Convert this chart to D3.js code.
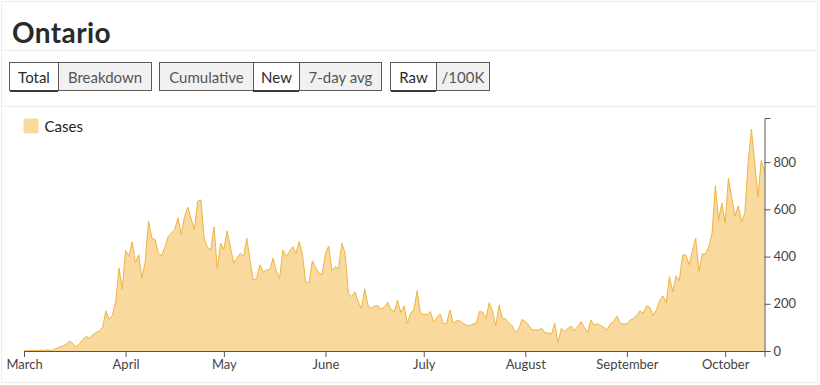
<!DOCTYPE html>
<html>
<head>
<meta charset="utf-8">
<script src="https://cdn.jsdelivr.net/npm/d3@7"></script>
<style>
  body { margin: 0; background: #fff; font-family: Lato, "Open Sans", sans-serif; }
  #card { position: absolute; left: 1px; top: 1px; width: 817px; height: 382px; border: 1px solid #ececec; box-sizing: border-box; }
  #title { position: absolute; left: 10px; top: 13px; font-size: 28px; font-weight: 700; color: #2a2a2a; letter-spacing: 0.4px; }
  .sep { position: absolute; left: 0; width: 100%; height: 1px; background: #ececec; }
  .group { position: absolute; top: 60px; display: flex; border: 1px solid #5a5a5a; height: 29px; box-sizing: border-box; }
  .btn { height: 100%; box-sizing: border-box; display: flex; align-items: center; justify-content: center; font-size: 15px; color: #555; background: #f1f1f1; border-left: 1px solid #5a5a5a; flex: none; }
  .btn:first-child { border-left: none; }
  .btn.on { background: #fff; color: #2a2a2a; box-shadow: 0 2px 0 #3a3a3a; }
  #chart { position: absolute; left: 0; top: 0; }
  .axis text { font-family: Lato, sans-serif; font-size: 13px; fill: #444; }
  .axis path, .axis line { stroke: #555; }
</style>
</head>
<body>
<div id="card">
  <div id="title">Ontario</div>
  <div class="sep" style="top:48px"></div>
  <div class="sep" style="top:104px"></div>
</div>
<svg id="chart" width="820" height="385"></svg>
<script>
// Button groups
const buttonGroups = [
  { left: 9, items: [['Total', 48, true], ['Breakdown', 93, false]] },
  { left: 159, items: [['Cumulative', 93, false], ['New', 46, true], ['7-day avg', 82, false]] },
  { left: 390, items: [['Raw', 45, true], ['/100K', 53, false]] }
];

// Daily new cases, one value per day starting 2020-03-01
const startDate = new Date(2020, 2, 1);
const newCases = [
  1, 0, 2, 3, 1, 4, 2, 5, 3, 4,
  12, 17, 22, 30, 42, 30, 18, 32, 50, 61,
  54, 70, 78, 85, 100, 170, 135, 151, 211, 351,
  262, 426, 401, 462, 375, 408, 309, 379, 550, 478,
  472, 415, 403, 440, 485, 500, 514, 564, 492, 570,
  609, 560, 516, 634, 640, 475, 440, 428, 525, 351,
  457, 430, 509, 440, 372, 393, 414, 400, 478, 380,
  300, 308, 365, 334, 344, 344, 393, 340, 308, 428,
  400, 420, 442, 414, 464, 407, 291, 291, 382, 353,
  330, 325, 414, 445, 339, 357, 348, 457, 414, 245,
  230, 251, 209, 181, 263, 192, 181, 191, 192, 178,
  185, 206, 175, 167, 216, 162, 191, 117, 160, 177,
  256, 160, 155, 153, 167, 124, 140, 157, 115, 117,
  174, 117, 128, 128, 117, 110, 106, 115, 115, 167,
  165, 139, 205, 167, 106, 195, 139, 135, 120, 106,
  78, 93, 134, 125, 110, 89, 89, 89, 96, 78,
  76, 72, 117, 35, 96, 82, 95, 106, 86, 105,
  124, 100, 78, 131, 110, 115, 108, 100, 89, 117,
  125, 148, 115, 115, 115, 131, 138, 150, 171, 160,
  191, 185, 150, 174, 213, 233, 205, 315, 251, 318,
  298, 407, 407, 365, 424, 478, 336, 411, 411, 442,
  499, 700, 556, 626, 542, 732, 648, 570, 615, 548,
  584, 797, 940, 800, 652, 807, 760
];
const yTicks = [0, 200, 400, 600, 800];
const seriesName = 'Cases';

// Buttons (card content box starts at x=2)
const card = d3.select('#card');
buttonGroups.forEach(g => {
  const grp = card.append('div')
    .attr('class', 'group')
    .style('left', (g.left - 2) + 'px');
  g.items.forEach(([label, w, on]) => {
    grp.append('div')
      .attr('class', 'btn' + (on ? ' on' : ''))
      .style('width', w + 'px')
      .text(label);
  });
});

const data = newCases.map((v, i) => ({ date: d3.timeDay.offset(startDate, i), value: v }));

const svg = d3.select('#chart');

const x = d3.scaleTime()
  .domain(d3.extent(data, d => d.date))
  .range([24, 764.5]);

const y = d3.scaleLinear()
  .domain([0, d3.max(newCases) * 1.05])
  .range([351, 118]);

// Area
const area = d3.area()
  .x(d => x(d.date))
  .y0(y(0))
  .y1(d => y(d.value));

const line = d3.line()
  .x(d => x(d.date))
  .y(d => y(d.value));

svg.append('path')
  .datum(data)
  .attr('d', area)
  .attr('fill', '#f9d99d');

svg.append('path')
  .datum(data)
  .attr('d', line)
  .attr('fill', 'none')
  .attr('stroke', '#eeb440')
  .attr('stroke-width', 1);

// Axes
svg.append('g')
  .attr('class', 'axis')
  .attr('transform', `translate(0,${y(0)})`)
  .call(d3.axisBottom(x).ticks(d3.timeMonth.every(1)).tickFormat(d3.timeFormat('%B')));

svg.append('g')
  .attr('class', 'axis')
  .attr('transform', `translate(${x.range()[1]},0)`)
  .call(d3.axisRight(y).tickValues(yTicks));

// Legend
const legend = svg.append('g').attr('transform', 'translate(23.5,118.5)');
legend.append('rect')
  .attr('width', 15).attr('height', 15).attr('rx', 2)
  .attr('fill', '#f9d99d');
legend.append('text')
  .attr('x', 21).attr('y', 13)
  .style('font-size', '15px').style('fill', '#222')
  .text(seriesName);
</script>
</body>
</html>
